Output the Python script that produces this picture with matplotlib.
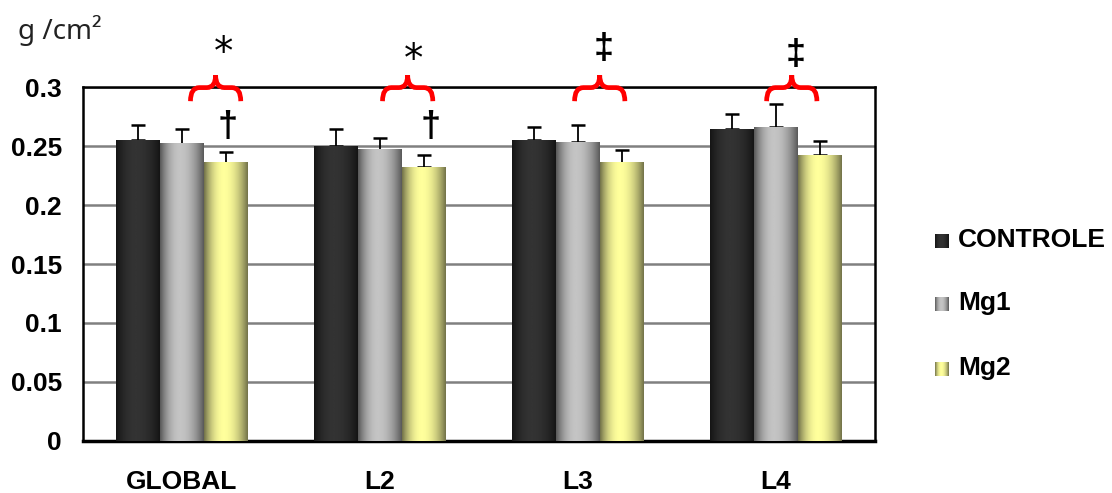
import numpy as np
import matplotlib
matplotlib.use('Agg')
import matplotlib.pyplot as plt
from matplotlib.path import Path
from matplotlib.patches import PathPatch
from matplotlib.colors import LinearSegmentedColormap

categories = ['GLOBAL', 'L2', 'L3', 'L4']
series = ['CONTROLE', 'Mg1', 'Mg2']
controle = [0.255, 0.250, 0.255, 0.264]
mg1 = [0.252, 0.247, 0.253, 0.266]
mg2 = [0.236, 0.232, 0.236, 0.242]
controle_err = [0.013, 0.014, 0.011, 0.013]
mg1_err = [0.012, 0.010, 0.015, 0.020]
mg2_err = [0.009, 0.010, 0.011, 0.012]
yticks = [0, 0.05, 0.1, 0.15, 0.2, 0.25, 0.3]
ytick_labels = ['0', '0.05', '0.1', '0.15', '0.2', '0.25', '0.3']

# significance marks per group
brace_center = [0.17, 0.14, 0.11, 0.08]
top_marks = ['*', '*', '\u2021', '\u2021']
top_mark_x = [0.21, 0.17, 0.13, 0.10]
top_mark_y = [0.329, 0.323, 0.332, 0.327]
dagger_groups = [0, 1]
dagger_x = [0.232, 0.258]
dagger_y = [0.266, 0.266]

# gradient colours: (edge, centre)
grad_colors = [('#151515', '#333333'), ('#5a5a5a', '#c4c4c4'), ('#74744a', '#ffff9c')]


def gradient_img():
    t = np.linspace(0, 1, 64)
    c = 0.45
    p = np.where(t < c, 1 - ((c - t) / c) ** 2, 1 - ((t - c) / (1 - c)) ** 2)
    return p.reshape(1, -1)


def brace(ax, xc, half, yb, yh, yt):
    x0, x1 = xc - half, xc + half
    r = half * 0.35
    verts = [(x0, yb), (x0, yh), (x0 + r, yh),
             (xc - r, yh), (xc, yh), (xc, yt),
             (xc, yh), (xc + r, yh),
             (x1 - r, yh), (x1, yh), (x1, yb)]
    codes = [Path.MOVETO, Path.CURVE3, Path.CURVE3,
             Path.LINETO, Path.CURVE3, Path.CURVE3,
             Path.CURVE3, Path.CURVE3,
             Path.LINETO, Path.CURVE3, Path.CURVE3]
    ax.add_patch(PathPatch(Path(verts, codes), fill=False, edgecolor='#ff0000',
                           lw=3.4, clip_on=False, capstyle='butt', zorder=5))


fig = plt.figure(figsize=(11.12, 4.93), dpi=100)
ax = fig.add_axes([0.0746, 0.1055, 0.7122, 0.718])

x = np.arange(len(categories))
w = 0.222
img = gradient_img()
all_vals = [controle, mg1, mg2]
all_errs = [controle_err, mg1_err, mg2_err]
for i, (vals, errs) in enumerate(zip(all_vals, all_errs)):
    pos = x + (i - 1) * w
    bars = ax.bar(pos, vals, w, color='none', edgecolor='none', zorder=3)
    cmap = LinearSegmentedColormap.from_list('g%d' % i, list(grad_colors[i]))
    for b in bars:
        ax.imshow(img, cmap=cmap, vmin=0, vmax=1, aspect='auto', interpolation='bilinear',
                  extent=[b.get_x(), b.get_x() + b.get_width(), 0, b.get_height()], zorder=3)
    ax.errorbar(pos, vals, yerr=[np.zeros(len(vals)), errs], fmt='none', ecolor='black',
                elinewidth=1.3, capsize=5, capthick=1.8, zorder=2)

ax.set_xlim(-0.5, 3.5)
ax.set_ylim(0, 0.3)
ax.set_yticks(yticks)
ax.set_yticklabels(ytick_labels)
ax.set_xticks(x)
ax.set_xticklabels(categories)
ax.tick_params(length=0)
ax.tick_params(axis='y', pad=15)
ax.tick_params(axis='x', pad=21)
for lab in ax.get_xticklabels() + ax.get_yticklabels():
    lab.set_fontfamily('Liberation Sans')
    lab.set_fontweight('bold')
    lab.set_fontsize(19)
ax.grid(axis='y', color='#808080', lw=1.8, zorder=0)
for s in ax.spines.values():
    s.set_linewidth(1.8)
    s.set_color('black')
ax.spines['bottom'].set_linewidth(2.5)

for g in range(len(categories)):
    brace(ax, x[g] + brace_center[g], 0.127, 0.288, 0.2995, 0.310)
    big = top_marks[g] == '*'
    ax.text(x[g] + top_mark_x[g], top_mark_y[g], top_marks[g], ha='center', va='center',
            fontsize=28 if big else 26, fontweight='normal' if big else 'bold',
            family='DejaVu Sans' if big else 'Liberation Sans', clip_on=False)
for g, dx, dy in zip(dagger_groups, dagger_x, dagger_y):
    ax.text(x[g] + dx, dy, '\u2020', ha='center', va='center', fontsize=26,
            fontweight='bold', family='Liberation Sans')

fig.text(18 / 1112, 1 - 30 / 493, 'g /cm\u00b2', fontsize=20, family='Noto Sans',
         color='#222222', va='center', ha='left')

# legend
leg_y = [240, 303, 368]
for i, name in enumerate(series):
    cmap = LinearSegmentedColormap.from_list('l%d' % i, list(grad_colors[i]))
    sw = fig.add_axes([935 / 1112, 1 - (leg_y[i] + 8) / 493, 14 / 1112, 14 / 493])
    sw.imshow(img, cmap=cmap, vmin=0, vmax=1, aspect='auto', interpolation='bilinear')
    sw.axis('off')
    fig.text(958 / 1112, 1 - leg_y[i] / 493, name, fontsize=19, fontweight='bold',
             family='Liberation Sans', va='center', ha='left')

fig.savefig('out.png', dpi=100)
